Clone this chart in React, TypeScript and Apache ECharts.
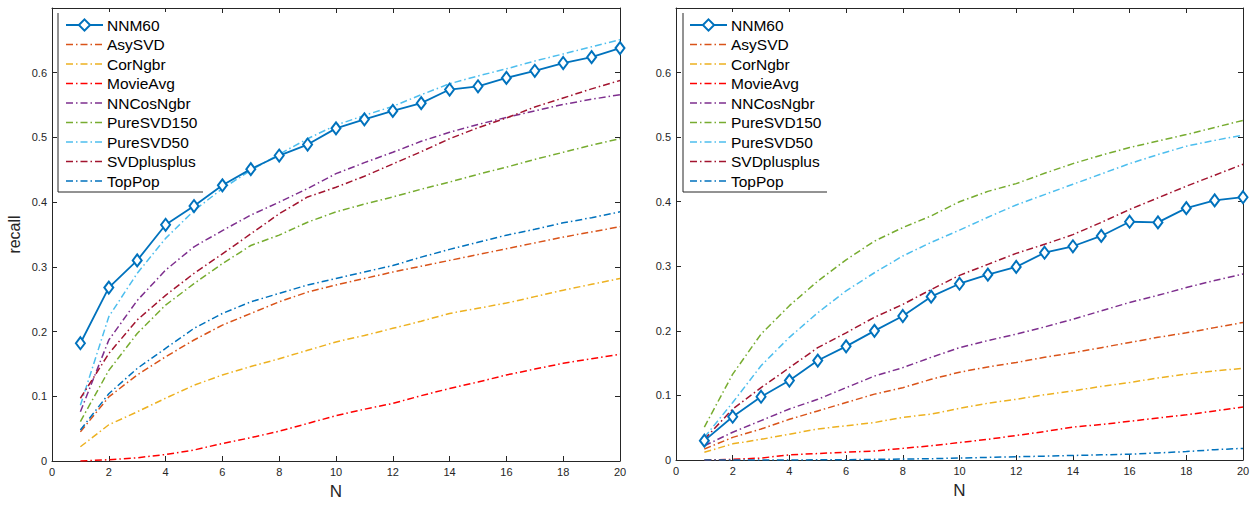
import React, { useEffect, useRef } from "react";
import * as echarts from "echarts";

const N = [1, 2, 3, 4, 5, 6, 7, 8, 9, 10, 11, 12, 13, 14, 15, 16, 17, 18, 19, 20];
const NAMES = ["NNM60", "AsySVD", "CorNgbr", "MovieAvg", "NNCosNgbr", "PureSVD150", "PureSVD50", "SVDplusplus", "TopPop"];
const COLORS = ["#0072BD", "#D95319", "#EDB120", "#FF0000", "#7E2F8E", "#77AC30", "#4DBEEE", "#A2142F", "#0072BD"];
const Y_TICKS = [0, 0.1, 0.2, 0.3, 0.4, 0.5, 0.6, 0.7];

// Left panel
const L_NNM60 = [0.182, 0.268, 0.310, 0.365, 0.394, 0.426, 0.451, 0.472, 0.489, 0.514, 0.528, 0.541, 0.553, 0.574, 0.579, 0.592, 0.603, 0.615, 0.624, 0.638];
const L_AsySVD = [0.045, 0.099, 0.133, 0.161, 0.187, 0.210, 0.228, 0.246, 0.261, 0.272, 0.282, 0.292, 0.301, 0.310, 0.319, 0.328, 0.337, 0.346, 0.354, 0.362];
const L_CorNgbr = [0.022, 0.056, 0.076, 0.097, 0.117, 0.133, 0.146, 0.158, 0.171, 0.184, 0.194, 0.205, 0.216, 0.228, 0.236, 0.244, 0.254, 0.264, 0.273, 0.282];
const L_MovieAvg = [0.000, 0.002, 0.005, 0.010, 0.017, 0.027, 0.036, 0.046, 0.058, 0.070, 0.080, 0.089, 0.101, 0.112, 0.122, 0.133, 0.142, 0.151, 0.158, 0.165];
const L_NNCosNgbr = [0.076, 0.187, 0.248, 0.295, 0.331, 0.356, 0.380, 0.400, 0.421, 0.444, 0.461, 0.477, 0.494, 0.508, 0.520, 0.531, 0.541, 0.551, 0.559, 0.566];
const L_PureSVD150 = [0.061, 0.140, 0.197, 0.241, 0.274, 0.305, 0.333, 0.349, 0.369, 0.385, 0.397, 0.408, 0.420, 0.431, 0.443, 0.454, 0.466, 0.477, 0.488, 0.498];
const L_PureSVD50 = [0.086, 0.223, 0.290, 0.344, 0.387, 0.421, 0.449, 0.474, 0.498, 0.519, 0.534, 0.548, 0.566, 0.583, 0.595, 0.606, 0.618, 0.629, 0.640, 0.651];
const L_SVDplusplus = [0.097, 0.166, 0.218, 0.256, 0.290, 0.320, 0.351, 0.382, 0.408, 0.423, 0.440, 0.459, 0.478, 0.498, 0.515, 0.530, 0.547, 0.561, 0.575, 0.588];
const L_TopPop = [0.048, 0.104, 0.143, 0.174, 0.205, 0.228, 0.246, 0.259, 0.272, 0.282, 0.292, 0.302, 0.315, 0.327, 0.338, 0.349, 0.358, 0.368, 0.376, 0.385];

// Right panel
const R_NNM60 = [0.030, 0.067, 0.098, 0.123, 0.154, 0.176, 0.200, 0.223, 0.253, 0.273, 0.287, 0.299, 0.321, 0.331, 0.347, 0.369, 0.368, 0.390, 0.402, 0.407];
const R_AsySVD = [0.017, 0.035, 0.048, 0.063, 0.076, 0.089, 0.102, 0.112, 0.125, 0.136, 0.144, 0.151, 0.159, 0.166, 0.174, 0.182, 0.190, 0.197, 0.205, 0.213];
const R_CorNgbr = [0.012, 0.025, 0.032, 0.040, 0.048, 0.053, 0.058, 0.066, 0.071, 0.080, 0.088, 0.094, 0.101, 0.107, 0.114, 0.120, 0.127, 0.133, 0.138, 0.142];
const R_MovieAvg = [0.000, 0.001, 0.003, 0.008, 0.010, 0.012, 0.014, 0.018, 0.022, 0.027, 0.032, 0.038, 0.044, 0.051, 0.055, 0.060, 0.065, 0.070, 0.076, 0.082];
const R_NNCosNgbr = [0.022, 0.043, 0.061, 0.079, 0.094, 0.112, 0.130, 0.143, 0.159, 0.174, 0.185, 0.195, 0.206, 0.218, 0.231, 0.244, 0.255, 0.267, 0.278, 0.288];
const R_PureSVD150 = [0.051, 0.133, 0.195, 0.239, 0.277, 0.310, 0.339, 0.360, 0.378, 0.400, 0.416, 0.428, 0.444, 0.459, 0.472, 0.484, 0.494, 0.504, 0.515, 0.526];
const R_PureSVD50 = [0.035, 0.089, 0.146, 0.190, 0.228, 0.262, 0.290, 0.316, 0.337, 0.356, 0.376, 0.395, 0.411, 0.427, 0.443, 0.459, 0.473, 0.486, 0.495, 0.503];
const R_SVDplusplus = [0.032, 0.079, 0.112, 0.143, 0.174, 0.197, 0.221, 0.241, 0.264, 0.286, 0.303, 0.320, 0.334, 0.349, 0.368, 0.388, 0.406, 0.424, 0.441, 0.458];
const R_TopPop = [0, 0, 0, 0, 0.0003, 0.0005, 0.001, 0.0015, 0.002, 0.003, 0.004, 0.005, 0.006, 0.007, 0.008, 0.009, 0.011, 0.013, 0.016, 0.018];

const LEFT = [L_NNM60, L_AsySVD, L_CorNgbr, L_MovieAvg, L_NNCosNgbr, L_PureSVD150, L_PureSVD50, L_SVDplusplus, L_TopPop];
const RIGHT = [R_NNM60, R_AsySVD, R_CorNgbr, R_MovieAvg, R_NNCosNgbr, R_PureSVD150, R_PureSVD50, R_SVDplusplus, R_TopPop];

const FONT = "Liberation Sans";
const AXIS_COLOR = "#262626";
const DASH_DOT = [7, 3, 1.5, 3];

function xAxisCfg(gridIndex: number, position: "bottom" | "top", showLabel: boolean, name?: string) {
  return {
    type: "value",
    gridIndex,
    position,
    min: 0,
    max: 20,
    interval: 2,
    name: name || "",
    nameLocation: "middle",
    nameGap: 22,
    nameTextStyle: { fontSize: 17, color: AXIS_COLOR, fontFamily: FONT },
    axisLine: { show: true, onZero: false, lineStyle: { color: AXIS_COLOR, width: 1 } },
    axisTick: { show: true, inside: true, length: 5, lineStyle: { color: AXIS_COLOR, width: 1 } },
    axisLabel: { show: showLabel, margin: 5, fontSize: 11, color: AXIS_COLOR, fontFamily: FONT },
    splitLine: { show: false },
  };
}

function yAxisCfg(gridIndex: number, position: "left" | "right", showLabel: boolean, name?: string) {
  return {
    type: "value",
    gridIndex,
    position,
    min: Y_TICKS[0],
    max: Y_TICKS[Y_TICKS.length - 1],
    interval: 0.1,
    name: name || "",
    nameLocation: "middle",
    nameGap: 30,
    nameRotate: 90,
    nameTextStyle: { fontSize: 16, color: AXIS_COLOR, fontFamily: FONT },
    axisLine: { show: true, onZero: false, lineStyle: { color: AXIS_COLOR, width: 1 } },
    axisTick: { show: true, inside: true, length: 5, lineStyle: { color: AXIS_COLOR, width: 1 } },
    axisLabel: {
      show: showLabel,
      showMaxLabel: false,
      margin: 5,
      fontSize: 11,
      color: AXIS_COLOR,
      fontFamily: FONT,
      formatter: (v: number) => (Math.abs(v) < 1e-9 ? "0" : v.toFixed(1)),
    },
    splitLine: { show: false },
  };
}

function makeSeries(panel: number[][], axisIndex: number) {
  return panel.map((vals, i) => {
    const isMain = i === 0;
    return {
      name: NAMES[i],
      type: "line",
      xAxisIndex: axisIndex,
      yAxisIndex: axisIndex,
      data: N.map((n, k) => [n, vals[k]]),
      color: COLORS[i],
      showSymbol: isMain,
      symbol: isMain ? "emptyDiamond" : "none",
      symbolSize: [9, 12],
      itemStyle: { color: COLORS[i], borderWidth: 1.5 },
      lineStyle: isMain
        ? { color: COLORS[i], width: 1.8, type: "solid" }
        : { color: COLORS[i], width: 1.5, type: DASH_DOT, cap: "butt" },
      z: isMain ? 10 : 2,
      silent: true,
    };
  });
}

function legendCfg(left: number) {
  return {
    orient: "vertical",
    left,
    top: 12,
    padding: 5,
    itemWidth: 37,
    itemHeight: 14,
    itemGap: 3.5,
    data: NAMES.map((name, i) =>
      i === 0
        ? { name }
        : {
            name,
            itemStyle: { opacity: 0 },
            lineStyle: { color: COLORS[i], width: 1.5, type: DASH_DOT, opacity: 1 },
          }
    ),
    selectedMode: false,
    textStyle: { fontSize: 15.5, color: "#000", fontFamily: FONT, padding: [0, 0, 0, -1] },
    backgroundColor: "#fff",
    borderWidth: 0,
  };
}

export default function App() {
  const ref = useRef<HTMLDivElement>(null);
  useEffect(() => {
    const chart = echarts.init(ref.current!, null, { renderer: "svg" });
    const option = {
      animation: false,
      backgroundColor: "#fff",
      grid: [
        { left: 52, top: 8, width: 568, height: 453 },
        { left: 676, top: 8, width: 567, height: 452 },
      ],
      xAxis: [
        xAxisCfg(0, "bottom", true, "N"),
        xAxisCfg(1, "bottom", true, "N"),
        xAxisCfg(0, "top", false),
        xAxisCfg(1, "top", false),
      ],
      yAxis: [
        yAxisCfg(0, "left", true, "recall"),
        yAxisCfg(1, "left", true),
        yAxisCfg(0, "right", false),
        yAxisCfg(1, "right", false),
      ],
      legend: [legendCfg(60), legendCfg(684)],
      series: [...makeSeries(LEFT, 0), ...makeSeries(RIGHT, 1)],
      graphic: [
        { type: "line", shape: { x1: 58, y1: 13, x2: 58, y2: 192 }, style: { stroke: AXIS_COLOR, lineWidth: 1 }, z: 100 },
        { type: "line", shape: { x1: 58, y1: 192, x2: 203, y2: 192 }, style: { stroke: AXIS_COLOR, lineWidth: 1 }, z: 100 },
        { type: "line", shape: { x1: 683, y1: 13, x2: 683, y2: 192 }, style: { stroke: AXIS_COLOR, lineWidth: 1 }, z: 100 },
        { type: "line", shape: { x1: 683, y1: 192, x2: 827, y2: 192 }, style: { stroke: AXIS_COLOR, lineWidth: 1 }, z: 100 },
      ],
    };
    chart.setOption(option as any);
    return () => chart.dispose();
  }, []);
  return (
    <div
      ref={ref}
      style={{ position: "fixed", left: 0, top: 0, width: 1257, height: 506, background: "#fff" }}
    />
  );
}
